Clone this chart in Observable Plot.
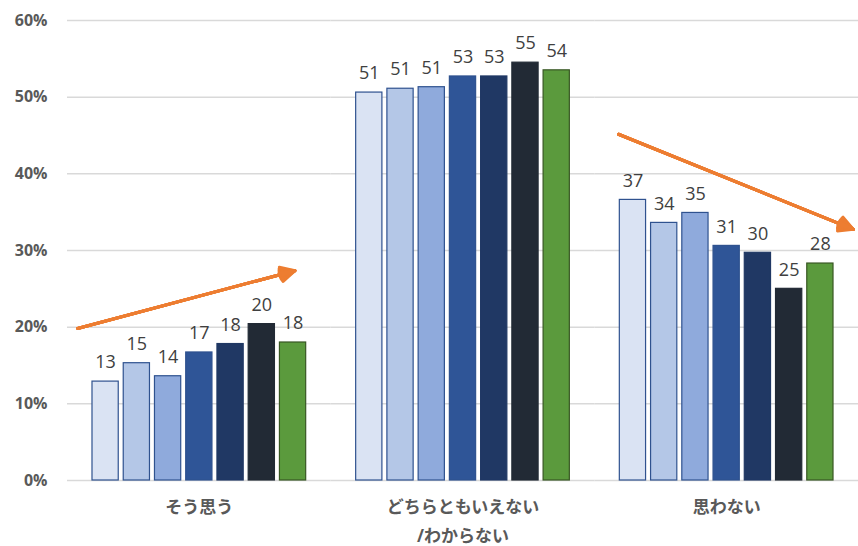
<!DOCTYPE html>
<html><head><meta charset="utf-8">
<script src="https://cdn.jsdelivr.net/npm/d3@7"></script>
<script src="https://cdn.jsdelivr.net/npm/@observablehq/plot@0.6"></script>
<style>html,body{margin:0;padding:0;background:#fff}#chart svg{display:block}</style>
</head><body><div id="chart"></div>
<script>
// ---- data ----
const groups = ["そう思う", "どちらともいえない\n/わからない", "思わない"];
const series = ["1", "2", "3", "4", "5", "6", "7"];
const valuesAgree    = [12.9, 15.3, 13.6, 16.7, 17.8, 20.4, 18.0];
const valuesNeutral  = [50.6, 51.1, 51.3, 52.7, 52.7, 54.5, 53.5];
const valuesDisagree = [36.6, 33.6, 34.9, 30.6, 29.7, 25.0, 28.3];
const labelsAgree    = [13, 15, 14, 17, 18, 20, 18];
const labelsNeutral  = [51, 51, 51, 53, 53, 55, 54];
const labelsDisagree = [37, 34, 35, 31, 30, 25, 28];
const yTicks = [0, 10, 20, 30, 40, 50, 60];
// trend arrows (annotations): group, from-series, to-series, y at start, y at end
const arrowGroup = [groups[0], groups[2]];
const arrowFrom = ["1", "1"];
const arrowTo = ["7", "7"];
const arrowY1 = [20.8, 44.4];
const arrowY2 = [27.3, 34.5];

// ---- styles ----
const barFill = ["#DAE3F3", "#B4C7E7", "#8FAADC", "#2F5597", "#203864", "#222A35", "#5B9A3D"];
const barStroke = ["#2F528F", "#2F528F", "#2F528F", "#2F528F", "#203864", "#222A35", "#385723"];
const arrowInsets = [[-29, -2], [-15.6, -35.6]];

const valueSets = [valuesAgree, valuesNeutral, valuesDisagree];
const labelSets = [labelsAgree, labelsNeutral, labelsDisagree];
const data = [];
groups.forEach((g, gi) => series.forEach((s, si) => data.push({
  group: g, series: s, i: si, value: valueSets[gi][si], label: String(labelSets[gi][si])
})));
const arrows = arrowGroup.map((g, k) => ({group: g, from: arrowFrom[k], to: arrowTo[k], y1: arrowY1[k], y2: arrowY2[k]}));

const arrowMarks = [];
arrows.forEach((a, k) => {
  [55, 42, 30, 18, 8].forEach(ang => {
    arrowMarks.push(Plot.arrow([a], {
      fx: "group", x1: "from", x2: "to", y1: "y1", y2: "y2",
      stroke: "#ED7D31", strokeWidth: 3, headAngle: ang, headLength: 8,
      insetStart: arrowInsets[k][0], insetEnd: arrowInsets[k][1]
    }));
  });
});

const chart = Plot.plot({
  width: 858, height: 546,
  marginLeft: 67, marginRight: 0, marginTop: 20, marginBottom: 66,
  style: {fontFamily: "'Open Sans','Noto Sans CJK JP',sans-serif", background: "#fff"},
  fx: {domain: groups, padding: 0, label: null, round: false},
  x: {domain: series, paddingInner: 0.16, paddingOuter: 0.80, round: false, axis: null},
  y: {domain: [0, 60], label: null},
  marks: [
    Plot.gridY(yTicks, {stroke: "#d9d9d9", strokeOpacity: 1, strokeWidth: 1.5}),
    Plot.axisY(yTicks, {tickSize: 0, tickPadding: 20, fontSize: 16, fontWeight: "bold", color: "#595959", tickFormat: d => d + "%", label: null}),
    Plot.axisFx({anchor: "bottom", tickSize: 0, tickPadding: 12, fontSize: 17, fontWeight: "bold", color: "#595959", lineHeight: 1.7, label: null}),
    Plot.barY(data, {fx: "group", x: "series", y: "value", fill: d => barFill[d.i], stroke: d => barStroke[d.i], strokeWidth: 1.2}),
    Plot.text(data, {fx: "group", x: "series", y: "value", text: "label", dy: -19, fontSize: 18, fill: "#404040"}),
    ...arrowMarks
  ]
});
document.getElementById("chart").appendChild(chart);
</script>
</body></html>
